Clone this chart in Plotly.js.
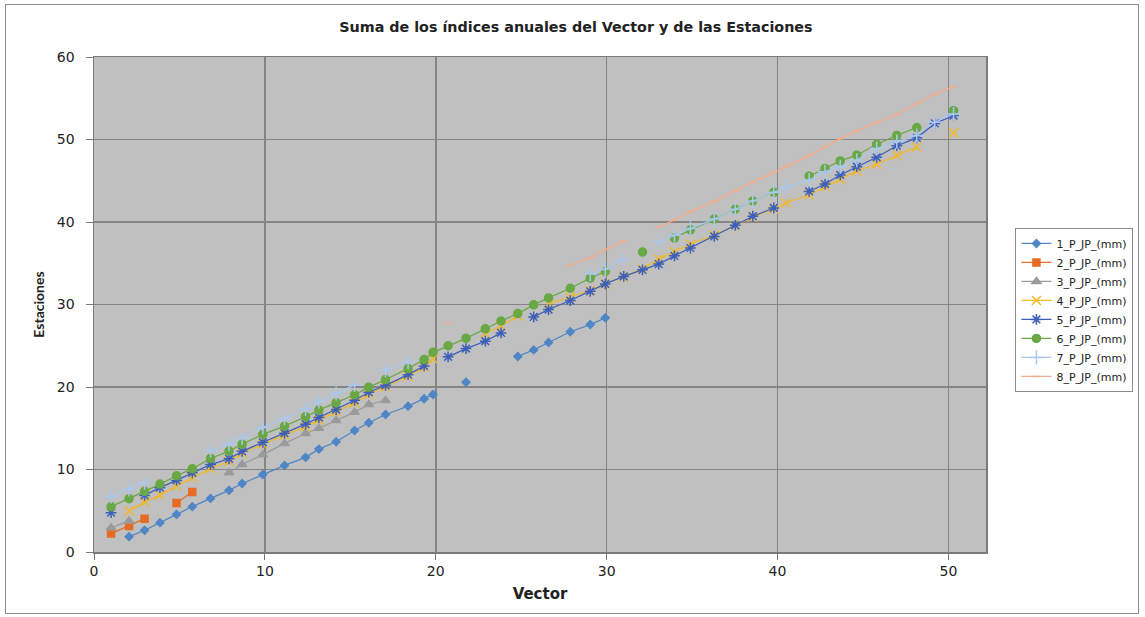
<!DOCTYPE html>
<html>
<head>
<meta charset="utf-8">
<script src="https://cdn.plot.ly/plotly-3.0.1.min.js"></script>
<style>
  html, body { margin: 0; padding: 0; background: #ffffff; }
  #frame { position: absolute; left: 5px; top: 4px; width: 1134px; height: 610px; border: 1px solid #8c8c8c; box-sizing: border-box; }
  #chart { position: absolute; left: 0; top: 0; width: 1145px; height: 617px; }
</style>
</head>
<body>
<div id="frame"></div>
<div id="chart"></div>
<script>
// Cumulative annual index of the reference vector (x for every station)
const vector = [1.0, 2.05, 2.96, 3.86, 4.83, 5.75, 6.82, 7.9, 8.67, 9.88,
  11.15, 12.38, 13.16, 14.17, 15.25, 16.08, 17.06, 18.38, 19.32, 19.84,
  20.72, 21.77, 22.9, 23.82, 24.8, 25.73, 26.6, 27.87, 29.04, 29.92,
  31.0, 32.1, 33.05, 33.97, 34.9, 36.3, 37.53, 38.55, 39.78, 40.5,
  41.85, 42.78, 43.67, 44.64, 45.8, 46.98, 48.15, 49.2, 50.3];

const seriesNames = ['1_P_JP_(mm)', '2_P_JP_(mm)', '3_P_JP_(mm)', '4_P_JP_(mm)',
  '5_P_JP_(mm)', '6_P_JP_(mm)', '7_P_JP_(mm)', '8_P_JP_(mm)'];

// Cumulative annual indices per station (null = year without data)
const est1 = [null, 1.86, 2.63, 3.56, 4.56, 5.5, 6.5, 7.47, 8.3, 9.4,
  10.5, 11.47, 12.47, 13.37, 14.73, 15.66, 16.67, 17.68, 18.57, 19.1,
  null, 20.58, null, null, 23.7, 24.5, 25.4, 26.7, 27.57, 28.38,
  null, null, null, null, null, null, null, null, null, null,
  null, null, null, null, null, null, null, null, null];

const est2 = [2.23, 3.15, 4.04, null, 5.93, 7.26, null, null, null, null,
  null, null, null, null, null, null, null, null, null, null,
  null, null, null, null, null, null, null, null, null, null,
  null, null, null, null, null, null, null, null, null, null,
  null, null, null, null, null, null, null, null, null];

const est3 = [2.95, 3.75, null, null, null, null, null, 9.6, 10.6, 11.8,
  13.16, 14.37, 15.0, 15.94, 16.95, 17.88, 18.37, null, null, null,
  null, null, null, null, null, null, null, null, null, null,
  null, null, null, null, null, null, null, null, null, null,
  null, null, null, null, null, null, null, null, null];

const est4 = [null, 4.96, 6.05, 6.9, 8.0, 9.0, 10.1, 11.0, 12.0, 13.1,
  14.2, 15.2, 16.0, 17.0, 18.1, 19.1, 20.0, 21.3, 22.4, 23.4,
  null, null, 26.5, 27.4, 28.6, null, 30.1, 30.9, 31.7, 32.5,
  33.35, 34.3, 35.5, 36.4, 37.3, 38.4, 39.6, 40.6, 41.6, 42.3,
  43.3, 44.3, 45.2, 46.2, 47.0, 48.1, 49.1, null, 50.8];

const est5 = [4.77, null, 6.86, 7.8, 8.68, 9.6, 10.6, 11.3, 12.2, 13.3,
  14.4, 15.5, 16.3, 17.27, 18.4, 19.37, 20.2, 21.5, 22.55, null,
  23.66, 24.66, 25.55, 26.56, null, 28.5, 29.39, 30.48, 31.6, 32.5,
  33.4, 34.2, 34.9, 35.9, 36.85, 38.25, 39.6, 40.7, 41.7, null,
  43.7, 44.6, 45.7, 46.7, 47.84, 49.25, 50.2, 51.95, 52.9];

const est6 = [5.5, 6.46, 7.35, 8.23, 9.25, 10.1, 11.34, 12.23, 13.07, 14.25,
  15.25, 16.4, 17.2, 18.1, 19.06, 19.98, 20.9, 22.24, 23.33, 24.2,
  25.0, 25.9, 27.05, 28.0, 28.9, 29.96, 30.8, 31.97, 33.2, 34.0,
  null, 36.35, null, 38.05, 39.05, 40.35, 41.55, 42.55, 43.6, null,
  45.55, 46.5, 47.4, 48.1, 49.43, 50.5, 51.45, null, 53.5];

const est7 = [6.74, 7.59, 8.4, null, null, null, 12.3, 13.07, 13.85, 15.1,
  16.2, 17.36, 18.24, 19.2, 20.25, null, 22.0, 23.0, null, null,
  null, null, null, null, null, null, null, null, 33.7, 34.3,
  35.5, null, 37.55, 38.4, 39.2, 40.35, 41.55, 42.55, 43.6, 44.2,
  45.1, 46.1, 46.7, 47.5, 48.9, 49.75, 50.5, 52.1, 53.1];

const est8 = [null, null, null, null, null, null, null, null, null, null,
  null, null, null, null, null, null, null, null, null, null,
  27.7, null, null, null, null, null, null, 34.76, 35.65, 36.66,
  37.67, null, 39.4, 40.25, 41.25, 42.5, 43.8, 44.8, 46.05, 46.8,
  48.05, 49.1, 50.1, 51.05, 52.05, 53.05, 54.35, 55.5, 56.4];

const stations = [est1, est2, est3, est4, est5, est6, est7, est8];

const styles = [
  { color: '#4f86c6', symbol: 'diamond', size: 6 },
  { color: '#e46c24', symbol: 'square', size: 7 },
  { color: '#9a9a9a', symbol: 'triangle-up', size: 8 },
  { color: '#f2b826', symbol: 'x-thin-open', size: 9 },
  { color: '#3d5fb8', symbol: 'asterisk-open', size: 9 },
  { color: '#69a845', symbol: 'circle', size: 8 },
  { color: '#a9c8ee', symbol: 'cross-thin-open', size: 10 },
  { color: '#f5ab8a', symbol: 'line-ew-open', size: 5 }
];

const traces = stations.map((vals, i) => ({
  x: vector,
  y: vals,
  name: seriesNames[i],
  type: 'scatter',
  mode: 'lines+markers',
  connectgaps: false,
  line: { color: styles[i].color, width: 1.25 },
  marker: {
    symbol: styles[i].symbol,
    size: styles[i].size,
    color: styles[i].color,
    line: { color: styles[i].color, width: 1.5 }
  }
}));

const wide = '"DejaVu Sans", Verdana, sans-serif';

const layout = {
  width: 1145,
  height: 617,
  margin: { l: 94, r: 159, t: 57, b: 65 },
  paper_bgcolor: 'rgba(0,0,0,0)',
  plot_bgcolor: '#c0c0c0',
  font: { family: wide, color: '#222222' },
  title: {
    text: '<b>Suma de los índices anuales del Vector y de las Estaciones</b>',
    font: { size: 14.3, color: '#222222', family: wide },
    x: 0.503, xref: 'container', y: 0.965, yref: 'container', xanchor: 'center'
  },
  xaxis: {
    range: [0, 52.2],
    dtick: 10,
    tick0: 0,
    showgrid: true,
    gridcolor: '#858585',
    gridwidth: 1.5,
    zeroline: false,
    showline: true,
    linecolor: '#7a7a7a',
    linewidth: 1.5,
    mirror: true,
    ticks: 'outside',
    ticklen: 6,
    tickcolor: '#7a7a7a',
    tickfont: { size: 14, color: '#222222', family: wide },
    title: { text: '<b>Vector</b>', font: { size: 15, family: wide }, standoff: 10 }
  },
  yaxis: {
    range: [0, 60],
    dtick: 10,
    showgrid: true,
    gridcolor: '#858585',
    gridwidth: 1.5,
    zeroline: false,
    showline: true,
    linecolor: '#7a7a7a',
    linewidth: 1.5,
    mirror: true,
    ticks: 'outside',
    ticklen: 7,
    ticklabelstandoff: 8,
    tickcolor: '#7a7a7a',
    tickfont: { size: 14, color: '#222222', family: wide },
    title: { text: '<b>Estaciones</b>', font: { size: 14, family: 'Lato, sans-serif' }, standoff: 9 }
  },
  showlegend: true,
  legend: {
    x: 1.033, xanchor: 'left',
    y: 0.489, yanchor: 'middle',
    bgcolor: '#ffffff',
    bordercolor: '#8c8c8c',
    borderwidth: 1,
    font: { size: 11, color: '#222222', family: wide },
    tracegroupgap: 0
  }
};

Plotly.newPlot('chart', traces, layout, { displayModeBar: false, staticPlot: true });
</script>
</body>
</html>
